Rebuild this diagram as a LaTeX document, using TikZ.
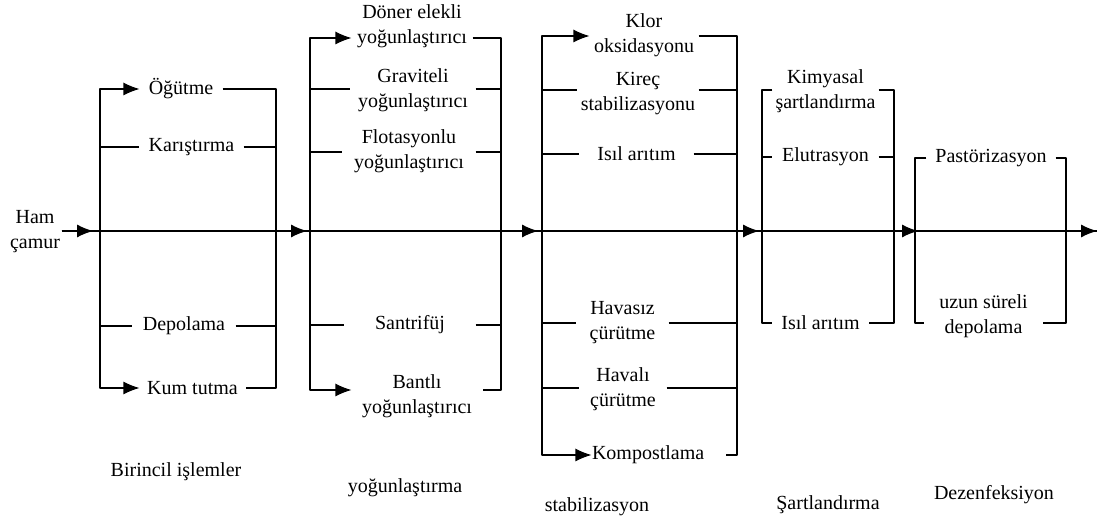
\documentclass[tikz,border=0pt]{standalone}
\usepackage{fontspec}
\setmainfont{LiberationSerif}[Extension=.ttf,UprightFont=*-Regular,BoldFont=*-Bold]
\usetikzlibrary{arrows.meta}
\begin{document}
\begin{tikzpicture}[>={Latex[length=16bp,width=13bp]},line join=bevel,line width=1.1bp,
  lbl/.style={inner sep=0pt,align=center,font=\rmfamily\fontsize{20bp}{25bp}\selectfont},]
\useasboundingbox (0bp,0bp) rectangle (1099bp,519bp);
%%
\node (ham) at (35bp,287bp) [lbl,inner sep=1bp] {Ham\\çamur};
\coordinate (in1) at (100bp,288bp);
\coordinate (out1) at (276bp,288bp);
\coordinate (in2) at (310bp,288bp);
\coordinate (out2) at (501bp,288bp);
\coordinate (in3) at (542bp,288bp);
\coordinate (out3) at (737bp,288bp);
\coordinate (in4) at (762bp,288bp);
\coordinate (out4) at (894bp,288bp);
\coordinate (in5) at (915bp,288bp);
\coordinate (out5) at (1066bp,288bp);
\coordinate (end) at (1097bp,288bp);
%
\draw (ham.east |- in1) -- (end);
\draw [->,shorten >=7bp] (ham.east |- in1) -- (in1);
\draw [->,shorten >=3bp] (out1) -- (in2);
\draw [->,shorten >=4bp] (out2) -- (in3);
\draw [->,shorten >=3bp] (out3) -- (in4);
\draw [->,shorten >=-3bp] (out4) -- (in5);
\draw [->] (out5) -- (end);
%% Birincil islemler
\node (ogutme) at (181bp,430bp) [lbl,minimum width=82bp] {Öğütme};
\node (karistirma) at (191.5bp,372bp) [lbl,minimum width=103bp] {Karıştırma};
\node (depolama) at (184bp,193bp) [lbl,minimum width=102bp] {Depolama};
\node (kumtutma) at (192.5bp,131bp) [lbl,minimum width=105bp] {Kum tutma};
\coordinate (g1l1) at (100bp,430bp);
\coordinate (g1l2) at (100bp,372bp);
\coordinate (g1l3) at (100bp,193bp);
\coordinate (g1l4) at (100bp,131bp);
\coordinate (g1r1) at (276bp,430bp);
\coordinate (g1r2) at (276bp,372bp);
\coordinate (g1r3) at (276bp,193bp);
\coordinate (g1r4) at (276bp,131bp);
\draw [<->] (g1l1 -| ogutme.west) -- (g1l1) -- (g1l4) -- (g1l4 -| kumtutma.west);
\draw (ogutme.east |- g1r1) -- (g1r1) -- (g1r4) -- (kumtutma.east |- g1r4);
\draw (g1l2) -- (g1l2 -| karistirma.west);
\draw (karistirma.east |- g1r2) -- (g1r2);
\draw (g1l3) -- (g1l3 -| depolama.west);
\draw (depolama.east |- g1r3) -- (g1r3);
%% yogunlastirma
\node (doner) at (412bp,492.5bp) [lbl,minimum width=120bp] {Döner elekli\\yoğunlaştırıcı};
\node (graviteli) at (413bp,429bp) [lbl,minimum width=124bp] {Graviteli\\yoğunlaştırıcı};
\node (flotasyonlu) at (409bp,367.5bp) [lbl,minimum width=132bp] {Flotasyonlu\\yoğunlaştırıcı};
\node (santrifuj) at (410bp,194bp) [lbl,minimum width=130bp] {Santrifüj};
\node (bantli) at (417bp,122.5bp) [lbl,minimum width=130bp] {Bantlı\\yoğunlaştırıcı};
\coordinate (g2l1) at (310bp,481bp);
\coordinate (g2l2) at (310bp,430bp);
\coordinate (g2l3) at (310bp,367bp);
\coordinate (g2l4) at (310bp,194bp);
\coordinate (g2l5) at (310bp,129bp);
\coordinate (g2r1) at (501bp,481bp);
\coordinate (g2r2) at (501bp,430bp);
\coordinate (g2r3) at (501bp,367bp);
\coordinate (g2r4) at (501bp,194bp);
\coordinate (g2r5) at (501bp,129bp);
\draw [<->] (g2l1 -| doner.west) -- (g2l1) -- (g2l5) -- (g2l5 -| bantli.west);
\draw (doner.east |- g2r1) -- (g2r1) -- (g2r5) -- (bantli.east |- g2r5);
\draw (g2l2) -- (g2l2 -| graviteli.west);
\draw (graviteli.east |- g2r2) -- (g2r2);
\draw (g2l3) -- (g2l3 -| flotasyonlu.west);
\draw (flotasyonlu.east |- g2r3) -- (g2r3);
\draw (g2l4) -- (g2l4 -| santrifuj.west);
\draw (santrifuj.east |- g2r4) -- (g2r4);
%% stabilizasyon
\node (klor) at (644bp,484bp) [lbl,minimum width=108bp] {Klor\\oksidasyonu};
\node (kirec) at (638bp,425bp) [lbl,minimum width=120bp] {Kireç\\stabilizasyonu};
\node (isil1) at (636.5bp,365bp) [lbl,minimum width=113bp] {Isıl arıtım};
\node (havasiz) at (622.5bp,196.5bp) [lbl,minimum width=91bp] {Havasız\\çürütme};
\node (havali) at (623bp,130bp) [lbl,minimum width=86bp] {Havalı\\çürütme};
\node (kompost) at (658.5bp,64bp) [lbl,text width=133bp,align=left] {Kompostlama};
\coordinate (g3l1) at (542bp,483bp);
\coordinate (g3l2) at (542bp,429bp);
\coordinate (g3l3) at (542bp,365bp);
\coordinate (g3l4) at (542bp,196bp);
\coordinate (g3l5) at (542bp,131bp);
\coordinate (g3l6) at (542bp,64bp);
\coordinate (g3r1) at (737bp,483bp);
\coordinate (g3r2) at (737bp,429bp);
\coordinate (g3r3) at (737bp,365bp);
\coordinate (g3r4) at (737bp,196bp);
\coordinate (g3r5) at (737bp,131bp);
\coordinate (g3r6) at (737bp,64bp);
\draw [<->] (g3l1 -| klor.west) -- (g3l1) -- (g3l6) -- (g3l6 -| kompost.west);
\draw (klor.east |- g3r1) -- (g3r1) -- (g3r6) -- (kompost.east |- g3r6);
\draw (g3l2) -- (g3l2 -| kirec.west);
\draw (kirec.east |- g3r2) -- (g3r2);
\draw (g3l3) -- (g3l3 -| isil1.west);
\draw (isil1.east |- g3r3) -- (g3r3);
\draw (g3l4) -- (g3l4 -| havasiz.west);
\draw (havasiz.east |- g3r4) -- (g3r4);
\draw (g3l5) -- (g3l5 -| havali.west);
\draw (havali.east |- g3r5) -- (g3r5);
%% sartlandirma
\node (kimyasal) at (825.5bp,427.5bp) [lbl,minimum width=105bp] {Kimyasal\\şartlandırma};
\node (elutrasyon) at (825.5bp,362bp) [lbl,minimum width=105bp] {Elutrasyon};
\node (isil2) at (820.5bp,196bp) [lbl,minimum width=95bp] {Isıl arıtım};
\coordinate (g4l1) at (762bp,429bp);
\coordinate (g4l2) at (762bp,362bp);
\coordinate (g4l3) at (762bp,196bp);
\coordinate (g4r1) at (894bp,429bp);
\coordinate (g4r2) at (894bp,362bp);
\coordinate (g4r3) at (894bp,196bp);
\draw (g4l1 -| kimyasal.west) -- (g4l1) -- (g4l3) -- (g4l3 -| isil2.west);
\draw (kimyasal.east |- g4r1) -- (g4r1) -- (g4r3) -- (isil2.east |- g4r3);
\draw (g4l2) -- (g4l2 -| elutrasyon.west);
\draw (elutrasyon.east |- g4r2) -- (g4r2);
%% dezenfeksiyon
\node (pastor) at (991bp,361bp) [lbl,minimum width=128bp] {Pastörizasyon};
\node (uzun) at (983.5bp,203bp) [lbl,minimum width=117bp] {uzun süreli\\depolama};
\coordinate (g5l1) at (915bp,361bp);
\coordinate (g5l2) at (915bp,196bp);
\coordinate (g5r1) at (1066bp,361bp);
\coordinate (g5r2) at (1066bp,196bp);
\draw (g5l1 -| pastor.west) -- (g5l1) -- (g5l2) -- (g5l2 -| uzun.west);
\draw (pastor.east |- g5r1) -- (g5r1) -- (g5r2) -- (uzun.east |- g5r2);
%% stage names
\node (birincil) at (176bp,47bp) [lbl] {Birincil işlemler};
\node (yogunlastirma) at (405bp,31bp) [lbl] {yoğunlaştırma};
\node (stabilizasyon) at (597bp,12bp) [lbl] {stabilizasyon};
\node (sartlandirma) at (828bp,14bp) [lbl] {Şartlandırma};
\node (dezenfeksiyon) at (994bp,24bp) [lbl] {Dezenfeksiyon};
%
\end{tikzpicture}
\end{document}
